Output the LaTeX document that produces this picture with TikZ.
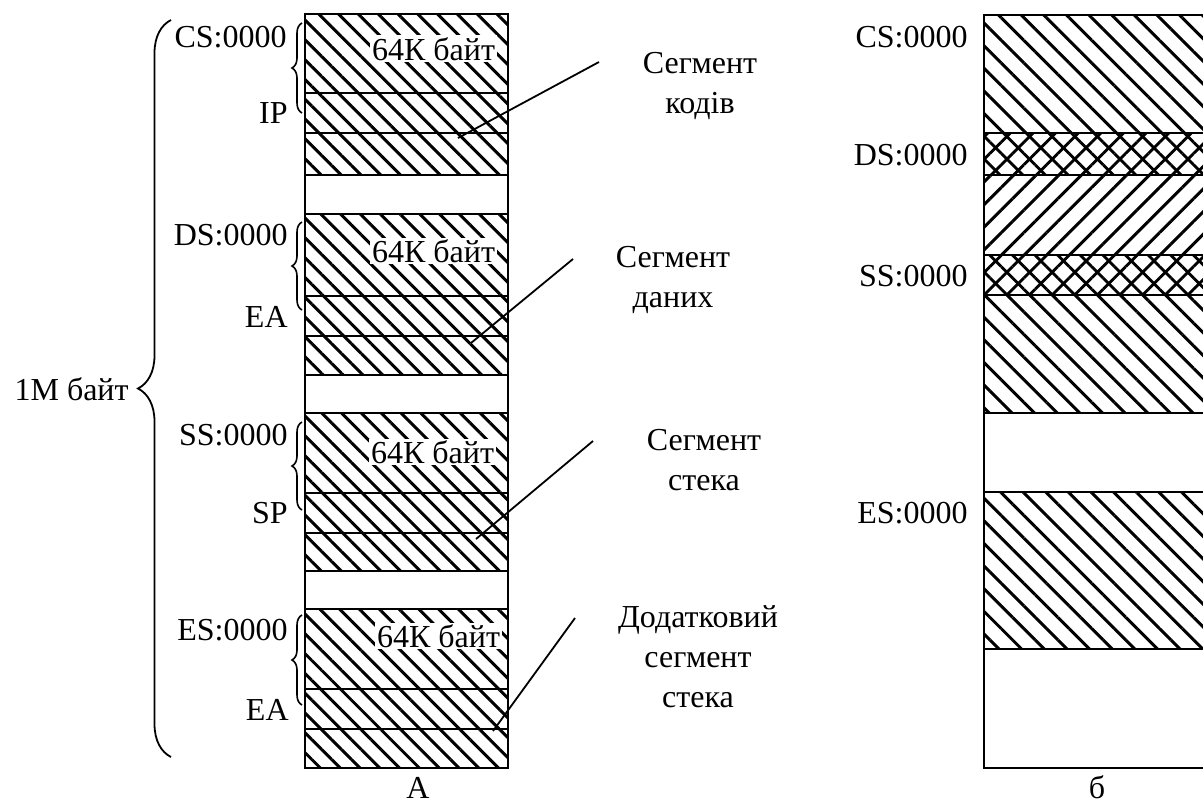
\documentclass[tikz,border=0pt]{standalone}
\usepackage{fontspec}
\setmainfont{Liberation Serif}
\usetikzlibrary{patterns.meta,decorations.pathreplacing}
\begin{document}
\begin{tikzpicture}[x=0.5pt,y=-0.5pt,
  lbl/.style={font=\fontsize{16}{20}\selectfont, inner sep=0pt},
  mlbl/.style={lbl, align=center, anchor=base},
  hatchA/.style={pattern={Lines[angle=-45,distance=7pt,line width=1.5pt]}},
  hatchB/.style={pattern={Lines[angle=-45,distance=8pt,line width=1.5pt]}},
  hatchNE/.style={pattern={Lines[angle=45,distance=8pt,line width=1.5pt]}},
  crossB/.style={pattern={Lines[angle=45,distance=8pt,line width=1.4pt]},
    postaction={pattern={Lines[angle=-45,distance=8pt,line width=1.4pt]}}},
  frame/.style={line width=1.3pt},
  sep/.style={line width=0.9pt},
  leader/.style={line width=0.9pt},
  smallbrace/.style={line width=0.8pt, decorate, decoration={brace, amplitude=5pt}},
  bigbrace/.style={line width=0.9pt, decorate, decoration={brace, amplitude=16.5pt}}
]
\useasboundingbox (0,0) rectangle (1203,804);
\fill[white] (0,0) rectangle (1203,804);

% ---------- left memory map ----------
\foreach \t/\a/\b/\e in {14/93/133/175, 214/296/336/375, 413/493/533/571, 609/689/729/768}{
  \fill[hatchA] (305,\t) rectangle (508,\e);
  \draw[sep] (305,\t) -- (508,\t);
  \draw[sep] (305,\a) -- (508,\a);
  \draw[sep] (305,\b) -- (508,\b);
  \draw[sep] (305,\e) -- (508,\e);
}
\draw[frame] (305,14) rectangle (508,768);

\node[lbl, fill=white, inner sep=0.8pt, anchor=base east] (k1) at (497,60) {64К байт};
\node[lbl, fill=white, inner sep=0.8pt, anchor=base east] (k2) at (497,262) {64К байт};
\node[lbl, fill=white, inner sep=0.8pt, anchor=base east] (k3) at (496,463) {64К байт};
\node[lbl, fill=white, inner sep=0.8pt, anchor=base east] (k4) at (502,647) {64К байт};

\node[lbl, anchor=base east] (cs) at (287,47) {CS:0000};
\node[lbl, anchor=base east] (ip) at (288,123) {IP};
\node[lbl, anchor=base east] (ds) at (288,245) {DS:0000};
\node[lbl, anchor=base east] (ea1) at (288,327) {EA};
\node[lbl, anchor=base east] (ss) at (288,445) {SS:0000};
\node[lbl, anchor=base east] (sp) at (288,523) {SP};
\node[lbl, anchor=base east] (es) at (288,640) {ES:0000};
\node[lbl, anchor=base east] (ea2) at (289,720) {EA};

\draw[smallbrace] (302,113) -- (302,23);
\draw[smallbrace] (302,310) -- (302,222);
\draw[smallbrace] (302,510) -- (302,422);
\draw[smallbrace] (302,705) -- (302,615);

\draw[bigbrace] (171,757) -- (171,20);
\node[lbl, anchor=base east] (mb) at (129,400) {1М байт};

% multi-line labels: anchor base = baseline of last line
\node[mlbl] (sk) at (700,113) {Сегмент\\кодів};
\node[mlbl] (sd) at (673,307) {Сегмент\\даних};
\node[mlbl] (sst) at (704,490) {Сегмент\\стека};
\node[mlbl] (sdd) at (698,707) {Додатковий\\сегмент\\стека};

\coordinate (l1a) at (458,138); \coordinate (l1b) at (599,62);
\coordinate (l2a) at (471,343); \coordinate (l2b) at (573,259);
\coordinate (l3a) at (476,539); \coordinate (l3b) at (593,441);
\coordinate (l4a) at (493,731); \coordinate (l4b) at (575,618);
\draw[leader] (l1a) -- (l1b);
\draw[leader] (l2a) -- (l2b);
\draw[leader] (l3a) -- (l3b);
\draw[leader] (l4a) -- (l4b);

\node[lbl, anchor=base] (capA) at (418,798) {А};

% ---------- right memory map ----------
\fill[hatchB] (984,15) rectangle (1210,133);
\fill[crossB] (984,133) rectangle (1210,175);
\fill[hatchNE] (984,175) rectangle (1210,255);
\fill[crossB] (984,255) rectangle (1210,295);
\fill[hatchB] (984,295) rectangle (1210,413);
\fill[hatchB] (984,492) rectangle (1210,649);
\foreach \y in {133,175,255,295,413,492,649}{
  \draw[sep] (984,\y) -- (1210,\y);
}
\draw[frame] (984,15) rectangle (1210,768);

\node[lbl, anchor=base east] (cs2) at (968,47) {CS:0000};
\node[lbl, anchor=base east] (ds2) at (968,165) {DS:0000};
\node[lbl, anchor=base east] (ss2) at (968,286) {SS:0000};
\node[lbl, anchor=base east] (es2) at (968,523) {ES:0000};

\node[lbl, anchor=base] (capB) at (1097,798) {б};
\end{tikzpicture}
\end{document}
